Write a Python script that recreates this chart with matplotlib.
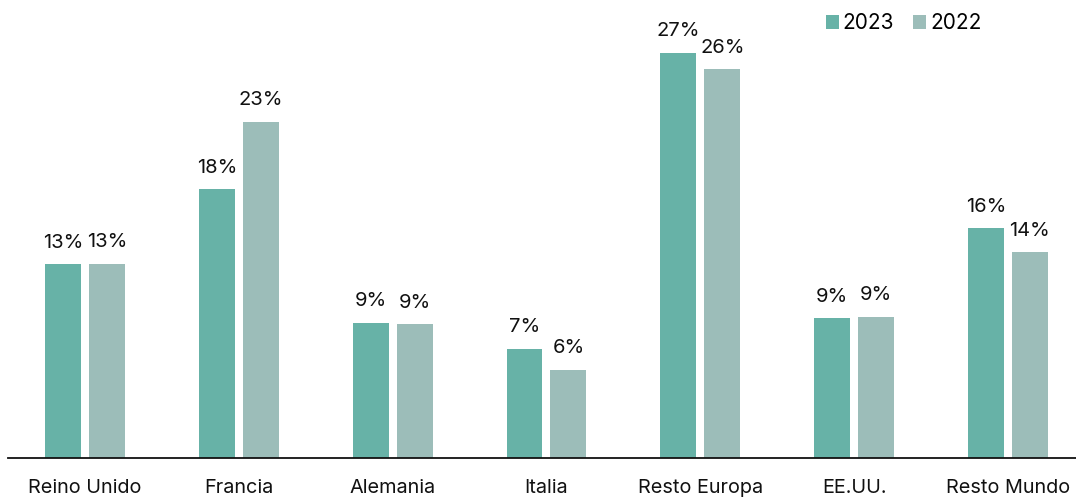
import numpy as np
import matplotlib.pyplot as plt

plt.rcParams['font.family'] = ['Inter', 'DejaVu Sans']

regiones = ['Reino Unido', 'Francia', 'Alemania', 'Italia', 'Resto Europa', 'EE.UU.', 'Resto Mundo']
valores_2023 = [12.9, 17.9, 9.0, 7.3, 27.0, 9.3, 15.3]
valores_2022 = [12.95, 22.4, 8.9, 5.9, 25.9, 9.4, 13.7]
etiquetas_2023 = ['13%', '18%', '9%', '7%', '27%', '9%', '16%']
etiquetas_2022 = ['13%', '23%', '9%', '6%', '26%', '9%', '14%']

color_2023 = '#67b2a7'
color_2022 = '#9cbdb9'

fig = plt.figure(figsize=(10.76, 4.98), dpi=100)
ax = fig.add_axes([0.0075, 0.08, 0.9925, 0.92])

x = np.arange(len(regiones))
ancho = 0.234
desp = 0.143

b1 = ax.bar(x - desp, valores_2023, ancho, color=color_2023, label='2023', zorder=2)
b2 = ax.bar(x + desp, valores_2022, ancho, color=color_2022, label='2022', zorder=2)

for barras, etiquetas in [(b1, etiquetas_2023), (b2, etiquetas_2022)]:
    for rect, txt in zip(barras, etiquetas):
        ax.annotate(txt, (rect.get_x() + rect.get_width() / 2, rect.get_height()),
                    xytext=(0, 9), textcoords='offset points',
                    ha='center', va='bottom', fontsize=14.5, color='#111111')

ax.set_xlim(-0.501, 6.443)
ax.set_ylim(0, 30.5)
ax.set_xticks(x)
ax.set_xticklabels(regiones, fontsize=14.3, color='#111111')
ax.tick_params(axis='x', length=0, pad=15)
ax.set_yticks([])
for s in ['top', 'right', 'left']:
    ax.spines[s].set_visible(False)
ax.spines['bottom'].set_color('#111111')
ax.spines['bottom'].set_linewidth(1.3)
ax.spines['bottom'].set_zorder(3)

ax.legend(loc='upper left', bbox_to_anchor=(0.748, 1.012), ncol=2, frameon=False,
          fontsize=15, handlelength=0.62, handleheight=0.62, handletextpad=0.2,
          columnspacing=0.9)

fig.savefig('out.png', dpi=100)
